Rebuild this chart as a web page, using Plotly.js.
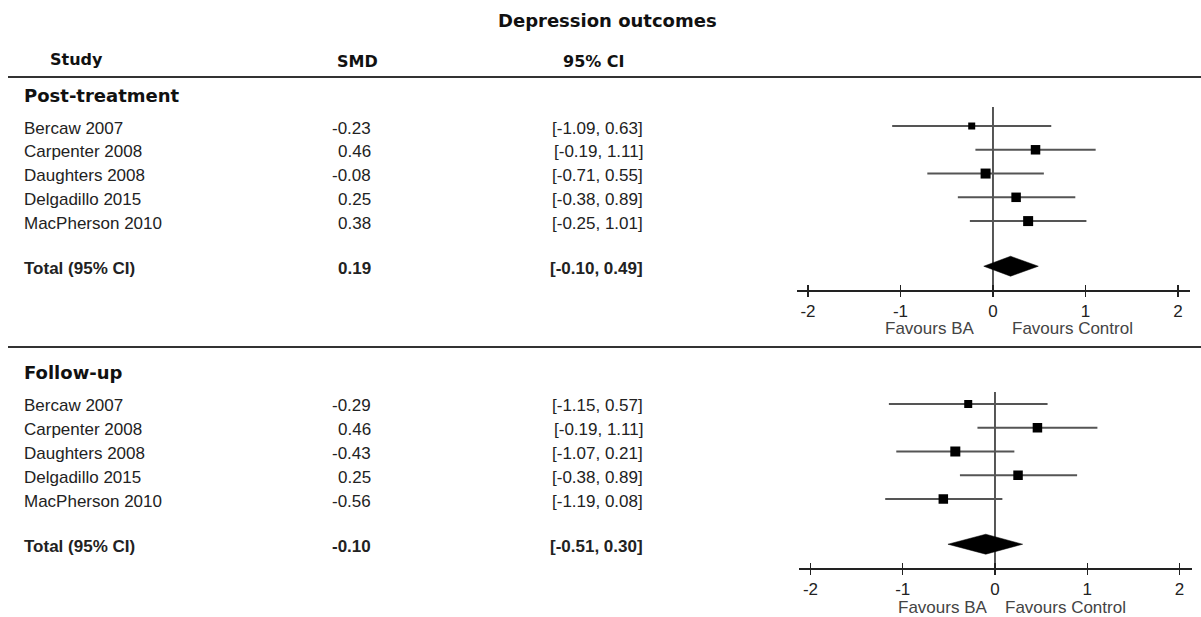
<!DOCTYPE html>
<html>
<head>
<meta charset="utf-8">
<script src="https://cdn.plot.ly/plotly-3.0.1.min.js"></script>
<style>html,body{margin:0;padding:0;background:#fff;}#chart{width:1201px;height:617px;}</style>
</head>
<body>
<div id="chart"></div>
<script>
// ---------- data ----------
const studies = ['Bercaw 2007', 'Carpenter 2008', 'Daughters 2008', 'Delgadillo 2015', 'MacPherson 2010'];
const postSMD = [-0.23, 0.46, -0.08, 0.25, 0.38];
const postLower = [-1.09, -0.19, -0.71, -0.38, -0.25];
const postUpper = [0.63, 1.11, 0.55, 0.89, 1.01];
const postTotal = 0.19, postTotalLower = -0.10, postTotalUpper = 0.49;
const fuSMD = [-0.29, 0.46, -0.43, 0.25, -0.56];
const fuLower = [-1.15, -0.19, -1.07, -0.38, -1.19];
const fuUpper = [0.57, 1.11, 0.21, 0.89, 0.08];
const fuTotal = -0.10, fuTotalLower = -0.51, fuTotalUpper = 0.30;
const tickValues = [-2, -1, 0, 1, 2];
const tickLabels = ['-2', '-1', '0', '1', '2'];
const sections = ['Post-treatment', 'Follow-up'];
const headers = ['Study', 'SMD', '95% CI'];
const chartTitle = 'Depression outcomes';
const favourLabels = ['Favours BA', 'Favours Control'];

// ---------- styles ----------
const W = 1201, H = 617;
const px = v => v / W;
const py = v => 1 - v / H;
const SANS = 'Liberation Sans, Arial, sans-serif';
const BOLD = 'DejaVu Sans, Verdana, sans-serif';
const postSizes = [7, 9.5, 10, 9.5, 10];
const fuSizes = [8, 9.5, 10, 9.5, 9.5];
const fmt = v => v.toFixed(2);
const rowPos = studies.map((_, i) => i + 1);
const totalPos = studies.length + 1.9;

function panelTraces(est, lo, hi, tot, tlo, thi, sizes, xa, ya) {
  const ci = {
    type: 'scatter', mode: 'markers', x: est, y: rowPos, xaxis: xa, yaxis: ya,
    marker: {color: 'rgba(0,0,0,0)', size: 1},
    error_x: {type: 'data', symmetric: false,
      array: est.map((v, i) => hi[i] - v), arrayminus: est.map((v, i) => v - lo[i]),
      width: 0, thickness: 2, color: '#555'},
    hoverinfo: 'skip', showlegend: false
  };
  const pts = {
    type: 'scatter', mode: 'markers', x: est, y: rowPos, xaxis: xa, yaxis: ya,
    marker: {symbol: 'square', color: '#000', size: sizes, opacity: 1, line: {width: 0}},
    hoverinfo: 'skip', showlegend: false
  };
  const h = 0.42;
  const dia = {
    type: 'scatter', mode: 'lines', xaxis: xa, yaxis: ya,
    x: [tlo, tot, thi, tot, tlo], y: [totalPos, totalPos - h, totalPos, totalPos + h, totalPos],
    fill: 'toself', fillcolor: '#000', line: {color: '#000', width: 0.5},
    hoverinfo: 'skip', showlegend: false
  };
  return [ci, pts, dia];
}

const traces = [
  ...panelTraces(postSMD, postLower, postUpper, postTotal, postTotalLower, postTotalUpper, postSizes, 'x', 'y'),
  ...panelTraces(fuSMD, fuLower, fuUpper, fuTotal, fuTotalLower, fuTotalUpper, fuSizes, 'x2', 'y2'),
  {type: 'scatter', mode: 'markers', x: [0], y: [1], xaxis: 'x3', yaxis: 'y', marker: {opacity: 0}, hoverinfo: 'skip', showlegend: false},
  {type: 'scatter', mode: 'markers', x: [0], y: [1], xaxis: 'x4', yaxis: 'y2', marker: {opacity: 0}, hoverinfo: 'skip', showlegend: false}
];

const xr = [-2.12, 2.13];
const topDom = [px(796.9), px(1190)];
const botDom = [px(799.4), px(1191.5)];
function xAxis(dom, anchor, inside) {
  return {
    domain: dom, range: xr, anchor: anchor, fixedrange: true,
    showline: !inside, linecolor: '#222', linewidth: 1.5,
    ticks: inside ? 'inside' : 'outside', ticklen: 5, tickwidth: 1.5, tickcolor: '#222',
    tickmode: 'array', tickvals: tickValues, ticktext: tickLabels,
    showticklabels: !inside, tickfont: {family: SANS, size: 17, color: '#222'},
    showgrid: false, zeroline: false,
    overlaying: inside ? (anchor === 'y' ? 'x' : 'x2') : undefined
  };
}
function yAxis(dom, range) {
  return {domain: dom, range: range, showline: false, showticklabels: false, showgrid: false,
    zeroline: false, ticks: '', fixedrange: true};
}

const ann = [];
function txt(text, x, y, opts) {
  ann.push(Object.assign({text: text, x: x, y: y, xref: 'paper', yref: 'paper', showarrow: false,
    xanchor: 'left', yanchor: 'middle', font: {family: SANS, size: 17, color: '#222'}}, opts || {}));
}
// title + headers
txt('<b>' + chartTitle + '</b>', px(607), py(21), {xanchor: 'center', font: {family: BOLD, size: 18, color: '#111'}});
txt('<b>' + headers[0] + '</b>', px(48), py(60), {font: {family: BOLD, size: 16, color: '#111'}});
txt('<b>' + headers[1] + '</b>', px(357), py(61), {xanchor: 'center', font: {family: BOLD, size: 16, color: '#111'}});
txt('<b>' + headers[2] + '</b>', px(594), py(61), {xanchor: 'center', font: {family: BOLD, size: 16, color: '#111'}});

function panelText(section, sectionY, est, lo, hi, tot, tlo, thi, yref) {
  txt('<b>' + section + '</b>', px(22), py(sectionY), {font: {family: BOLD, size: 18, color: '#111'}});
  studies.forEach((s, i) => {
    const base = {yref: yref, yshift: -2};
    txt(s, px(22), rowPos[i], base);
    txt(fmt(est[i]), px(373), rowPos[i], Object.assign({xanchor: 'right'}, base));
    txt('[' + fmt(lo[i]) + ', ' + fmt(hi[i]) + ']', px(645), rowPos[i], Object.assign({xanchor: 'right'}, base));
  });
  const tb = {yref: yref, yshift: -2};
  txt('<b>Total (95% CI)</b>', px(22), totalPos, tb);
  txt('<b>' + fmt(tot) + '</b>', px(373), totalPos, Object.assign({xanchor: 'right'}, tb));
  txt('<b>[' + fmt(tlo) + ', ' + fmt(thi) + ']</b>', px(645), totalPos, Object.assign({xanchor: 'right'}, tb));
}
panelText(sections[0], 96, postSMD, postLower, postUpper, postTotal, postTotalLower, postTotalUpper, 'y');
panelText(sections[1], 372, fuSMD, fuLower, fuUpper, fuTotal, fuTotalLower, fuTotalUpper, 'y2');

// favours labels
function favours(xref, yPix, leftShift, rightShift) {
  ann.push({text: favourLabels[0], x: 0, xref: xref, y: py(yPix), yref: 'paper', xanchor: 'right', yanchor: 'middle',
    xshift: leftShift, showarrow: false, font: {family: SANS, size: 17, color: '#444'}});
  ann.push({text: favourLabels[1], x: 0, xref: xref, y: py(yPix), yref: 'paper', xanchor: 'left', yanchor: 'middle',
    xshift: rightShift, showarrow: false, font: {family: SANS, size: 17, color: '#444'}});
}
favours('x', 328, -17, 17);
favours('x2', 607, -6, 8);

const shapes = [
  {type: 'line', xref: 'paper', yref: 'paper', x0: px(8), x1: 1, y0: py(77), y1: py(77), line: {color: '#333', width: 2}},
  {type: 'line', xref: 'paper', yref: 'paper', x0: px(8), x1: 1, y0: py(347), y1: py(347), line: {color: '#333', width: 2}},
  {type: 'line', xref: 'x', yref: 'y domain', x0: 0, x1: 0, y0: 0, y1: 1, layer: 'below', line: {color: '#444', width: 1.8}},
  {type: 'line', xref: 'x2', yref: 'y2 domain', x0: 0, x1: 0, y0: 0, y1: 1, layer: 'below', line: {color: '#444', width: 1.8}}
];

const layout = {
  width: W, height: H, margin: {l: 0, r: 0, t: 0, b: 0},
  paper_bgcolor: '#fff', plot_bgcolor: 'rgba(0,0,0,0)', showlegend: false,
  xaxis: xAxis(topDom, 'y', false),
  xaxis2: xAxis(botDom, 'y2', false),
  xaxis3: xAxis(topDom, 'y', true),
  xaxis4: xAxis(botDom, 'y2', true),
  yaxis: yAxis([py(290), py(107)], [7.9, 0.2]),
  yaxis2: yAxis([py(568), py(392)], [7.9, 0.5]),
  annotations: ann, shapes: shapes
};

Plotly.newPlot('chart', traces, layout, {displayModeBar: false, staticPlot: true});
</script>
</body>
</html>
